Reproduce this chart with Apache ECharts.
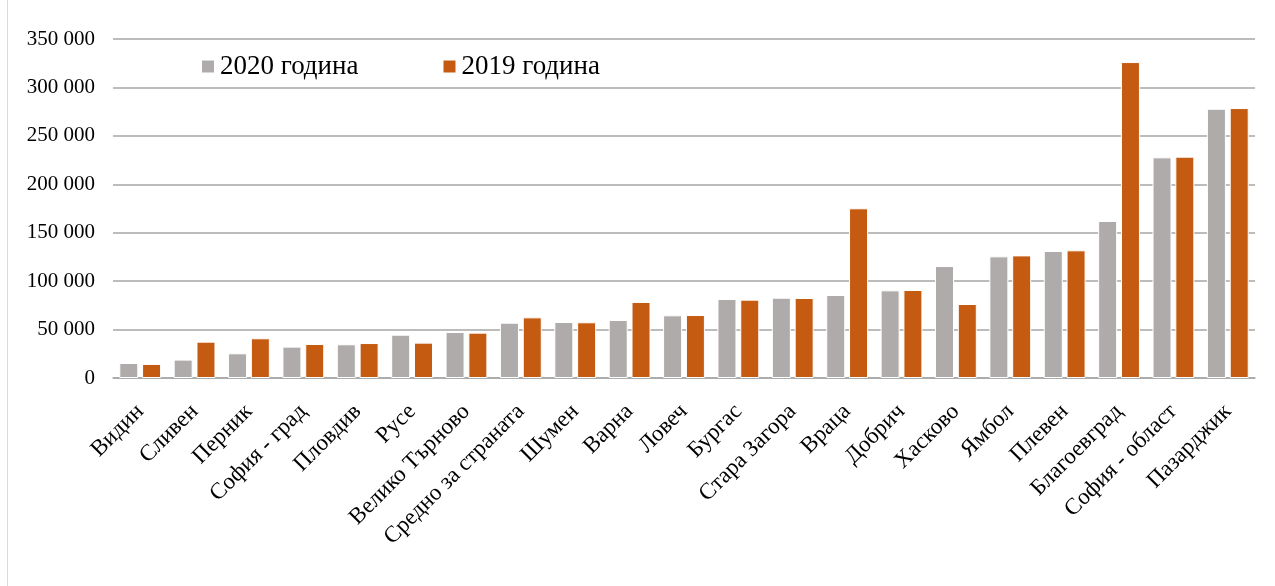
<!DOCTYPE html>
<html>
<head>
<meta charset="utf-8">
<script src="https://cdn.jsdelivr.net/npm/echarts@6/dist/echarts.min.js"></script>
<style>
  html, body { margin: 0; padding: 0; background: #fff; }
  #chart { width: 1275px; height: 586px; position: relative; }
  #frame { position: absolute; left: 7px; top: 0; width: 0; height: 586px; border-left: 1px solid #d9d9d9; }
</style>
</head>
<body>
<div id="chart"></div>
<div id="frame"></div>
<script>
// области (по възходящ ред)
var categories = ['Видин', 'Сливен', 'Перник', 'София - град', 'Пловдив', 'Русе',
    'Велико Търново', 'Средно за страната', 'Шумен', 'Варна', 'Ловеч', 'Бургас',
    'Стара Загора', 'Враца', 'Добрич', 'Хасково', 'Ямбол', 'Плевен',
    'Благоевград', 'София - област', 'Пазарджик'];

var values2020 = [15500, 19000, 25500, 32400, 34800, 44700, 47500, 57100, 57800, 59900,
    64700, 81600, 82900, 85700, 90500, 115600, 125600, 131100, 162100, 227800, 278000];

var values2019 = [14500, 37500, 41000, 35100, 36100, 36500, 46800, 62600, 57500, 78500,
    65000, 80900, 82600, 175200, 90900, 76400, 126600, 131800, 326200, 228500, 278700];

var yTicks = [0, 50000, 100000, 150000, 200000, 250000, 300000, 350000];

var font = '"Liberation Serif", "Times New Roman", serif';

function fmt(v) {
    return String(v).replace(/\B(?=(\d{3})+(?!\d))/g, ' ');
}

var myChart = echarts.init(document.getElementById('chart'));
var option = {
    backgroundColor: '#fff',
    animation: false,
    grid: {
        left: 113,
        right: 20,
        top: 39,
        bottom: 208
    },
    legend: {
        left: 195,
        top: 48,
        itemWidth: 14,
        itemHeight: 14,
        itemGap: 83,
        icon: 'rect',
        textStyle: {
            fontFamily: font,
            fontSize: 27,
            color: '#000'
        },
        data: ['2020 година', '2019 година']
    },
    xAxis: {
        type: 'category',
        data: categories,
        axisLine: { lineStyle: { color: '#a6a6a6', width: 1.5 } },
        axisTick: { show: false },
        axisLabel: {
            rotate: 45,
            interval: 0,
            margin: 30,
            fontFamily: font,
            fontSize: 23,
            color: '#000'
        }
    },
    yAxis: {
        type: 'value',
        min: yTicks[0],
        max: yTicks[yTicks.length - 1],
        interval: 50000,
        axisLine: { show: false },
        axisTick: { show: false },
        splitLine: { lineStyle: { color: '#a6a6a6', width: 1.5 } },
        axisLabel: {
            margin: 18,
            fontFamily: font,
            fontSize: 21,
            color: '#000',
            formatter: fmt
        }
    },
    series: [
        {
            name: '2020 година',
            type: 'bar',
            data: values2020,
            barWidth: 19,
            barGap: '20%',
            itemStyle: { color: '#afabab', borderColor: '#fff', borderWidth: 1 }
        },
        {
            name: '2019 година',
            type: 'bar',
            data: values2019,
            barWidth: 19,
            itemStyle: { color: '#c55a11', borderColor: '#fff', borderWidth: 1 }
        }
    ]
};
myChart.setOption(option);
</script>
</body>
</html>
